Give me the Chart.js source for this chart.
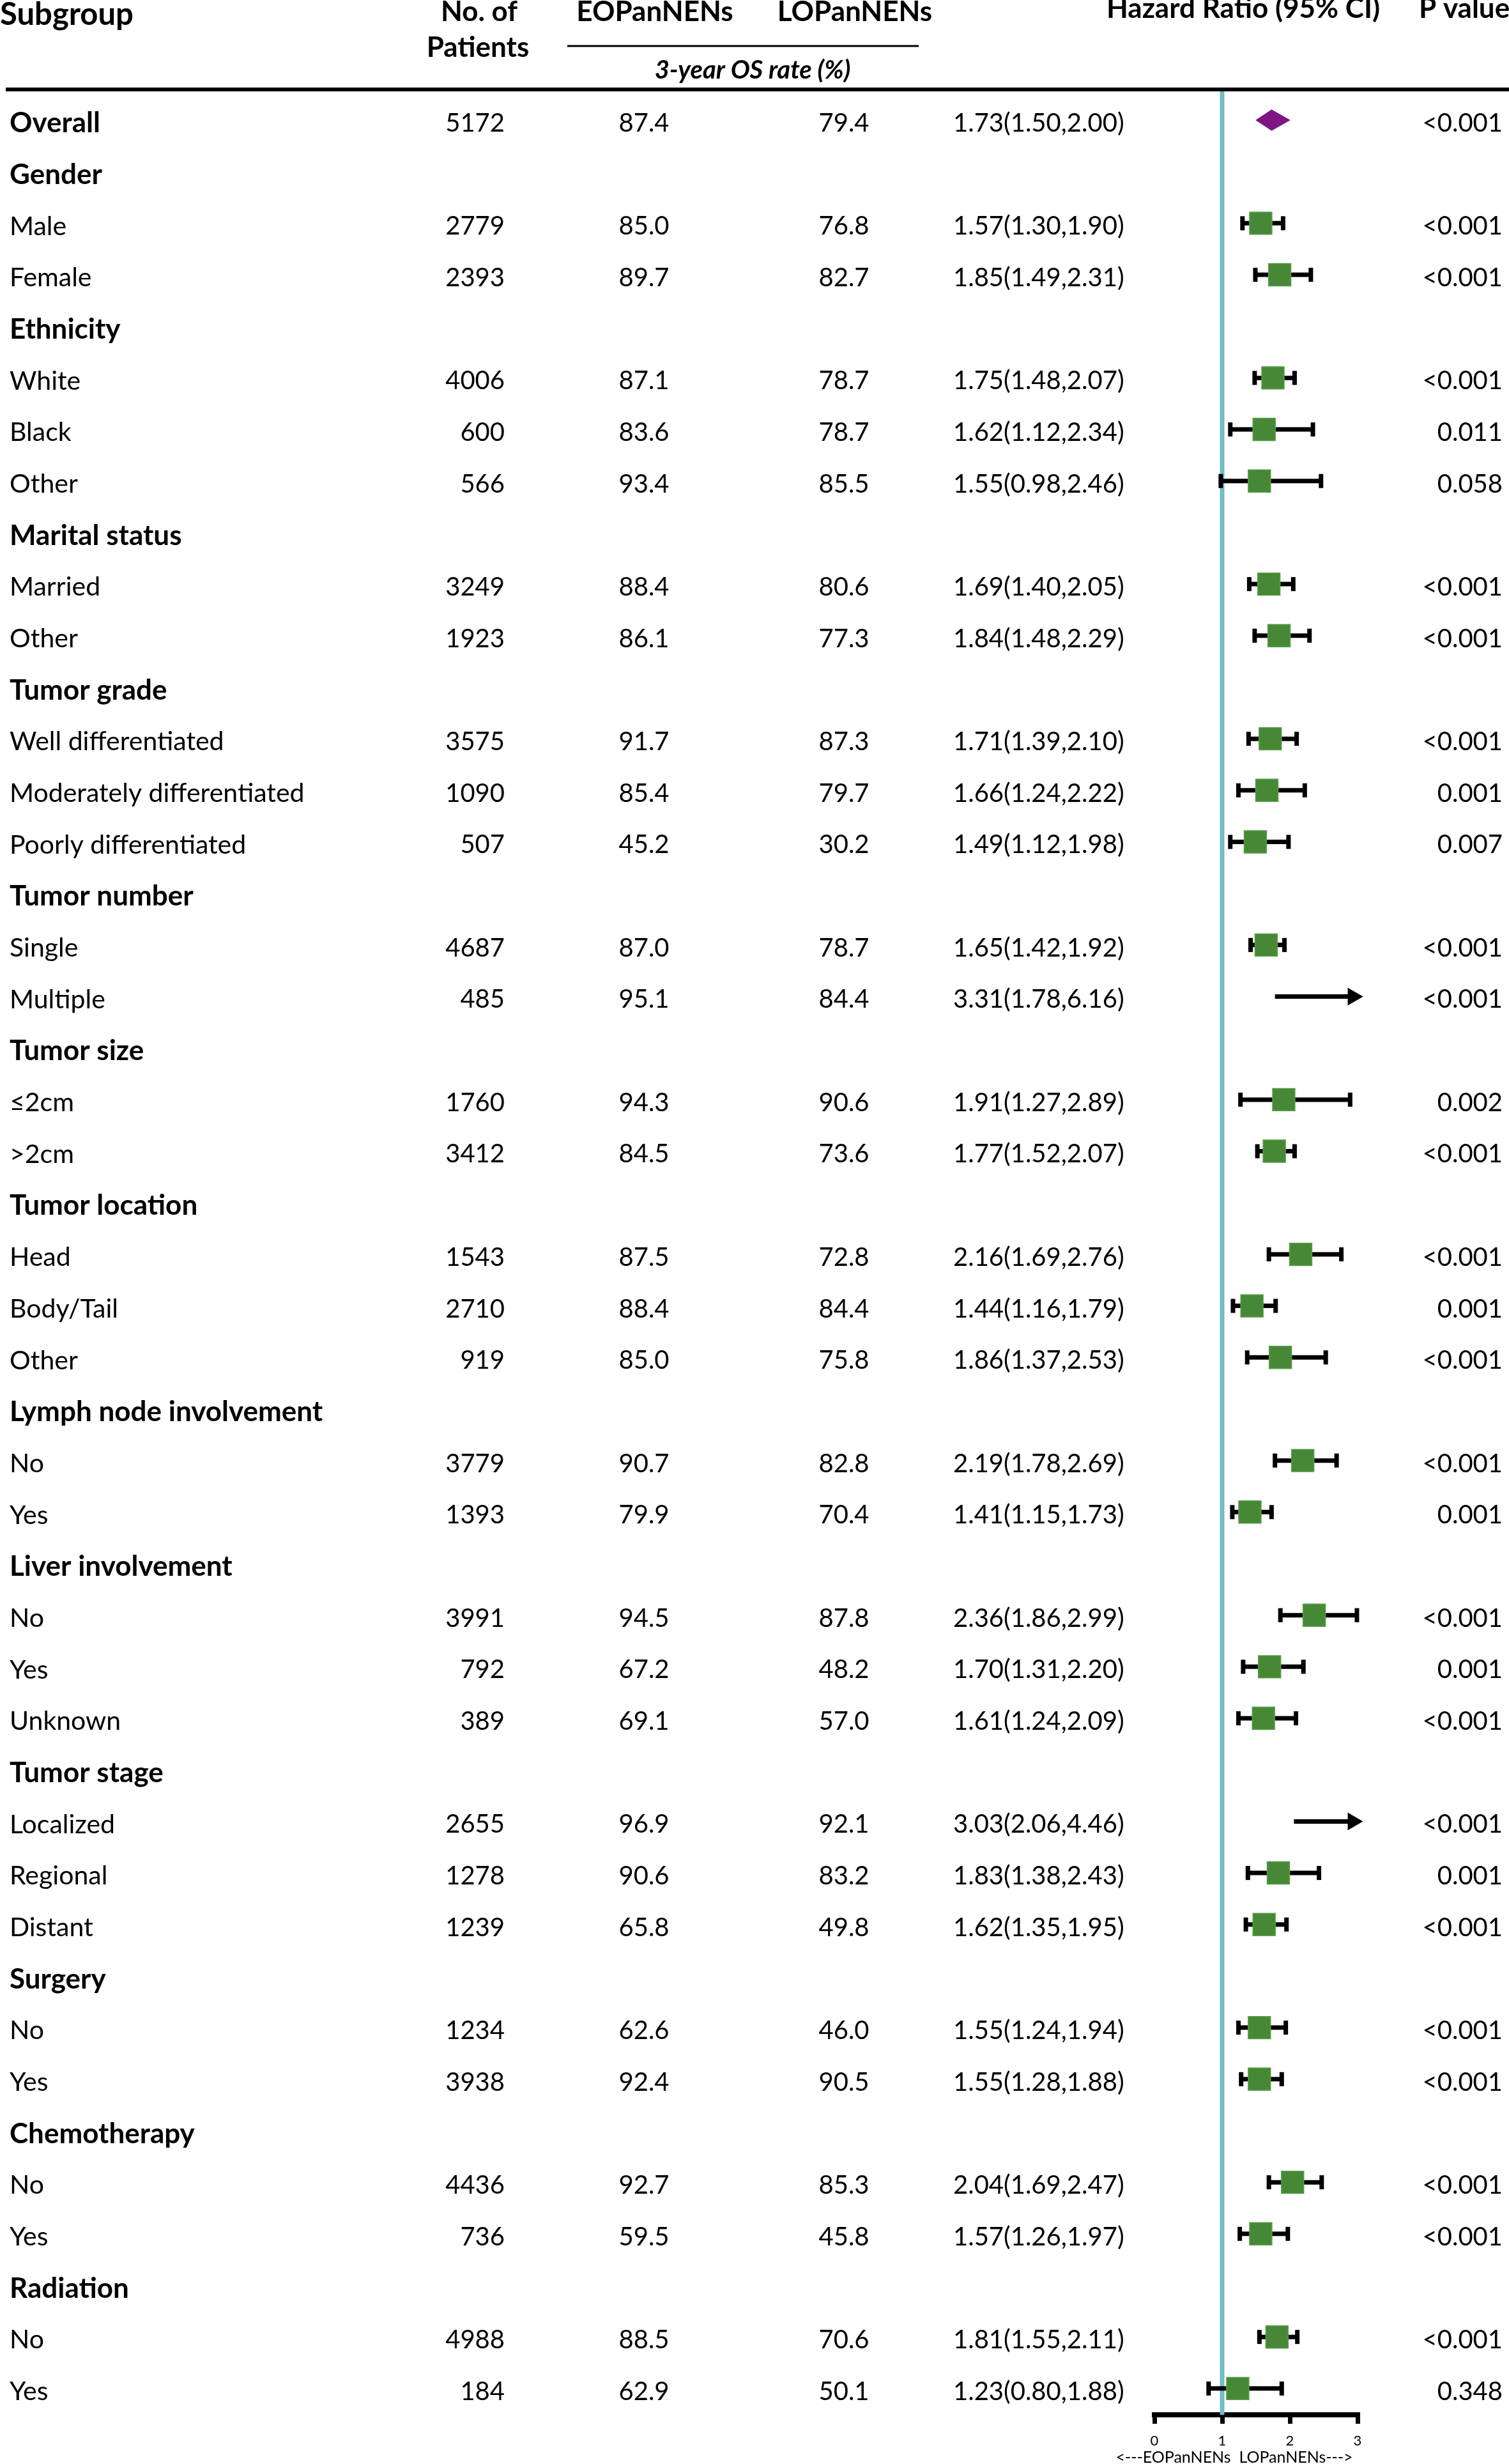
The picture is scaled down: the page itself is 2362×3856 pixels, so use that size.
<!DOCTYPE html>
<html>
<head>
<meta charset="utf-8">
<script src="https://cdn.jsdelivr.net/npm/chart.js@4.4.1/dist/chart.umd.min.js"></script>
<style>
  html, body { margin: 0; padding: 0; background: #fff; }
  canvas { display: block; }
</style>
</head>
<body>
<canvas id="forestChart" width="2362" height="3856"></canvas>
<script>
// table rows, top to bottom (null = group heading row)
const subgroups = ['Overall', 'Gender', 'Male', 'Female', 'Ethnicity', 'White', 'Black', 'Other',
  'Marital status', 'Married', 'Other', 'Tumor grade', 'Well differentiated', 'Moderately differentiated',
  'Poorly differentiated', 'Tumor number', 'Single', 'Multiple', 'Tumor size', '\u22642cm', '>2cm',
  'Tumor location', 'Head', 'Body/Tail', 'Other', 'Lymph node involvement', 'No', 'Yes',
  'Liver involvement', 'No', 'Yes', 'Unknown', 'Tumor stage', 'Localized', 'Regional', 'Distant',
  'Surgery', 'No', 'Yes', 'Chemotherapy', 'No', 'Yes', 'Radiation', 'No', 'Yes']
const patients = [5172, null, 2779, 2393, null, 4006, 600, 566, null, 3249, 1923, null, 3575, 1090, 507,
  null, 4687, 485, null, 1760, 3412, null, 1543, 2710, 919, null, 3779, 1393, null, 3991, 792, 389,
  null, 2655, 1278, 1239, null, 1234, 3938, null, 4436, 736, null, 4988, 184]
const eoRate = [87.4, null, 85.0, 89.7, null, 87.1, 83.6, 93.4, null, 88.4, 86.1, null, 91.7, 85.4, 45.2,
  null, 87.0, 95.1, null, 94.3, 84.5, null, 87.5, 88.4, 85.0, null, 90.7, 79.9, null, 94.5, 67.2, 69.1,
  null, 96.9, 90.6, 65.8, null, 62.6, 92.4, null, 92.7, 59.5, null, 88.5, 62.9]
const loRate = [79.4, null, 76.8, 82.7, null, 78.7, 78.7, 85.5, null, 80.6, 77.3, null, 87.3, 79.7, 30.2,
  null, 78.7, 84.4, null, 90.6, 73.6, null, 72.8, 84.4, 75.8, null, 82.8, 70.4, null, 87.8, 48.2, 57.0,
  null, 92.1, 83.2, 49.8, null, 46.0, 90.5, null, 85.3, 45.8, null, 70.6, 50.1]
const hazard = [1.73, null, 1.57, 1.85, null, 1.75, 1.62, 1.55, null, 1.69, 1.84, null, 1.71, 1.66, 1.49,
  null, 1.65, 3.31, null, 1.91, 1.77, null, 2.16, 1.44, 1.86, null, 2.19, 1.41, null, 2.36, 1.70, 1.61,
  null, 3.03, 1.83, 1.62, null, 1.55, 1.55, null, 2.04, 1.57, null, 1.81, 1.23]
const ciLow = [1.50, null, 1.30, 1.49, null, 1.48, 1.12, 0.98, null, 1.40, 1.48, null, 1.39, 1.24, 1.12,
  null, 1.42, 1.78, null, 1.27, 1.52, null, 1.69, 1.16, 1.37, null, 1.78, 1.15, null, 1.86, 1.31, 1.24,
  null, 2.06, 1.38, 1.35, null, 1.24, 1.28, null, 1.69, 1.26, null, 1.55, 0.80]
const ciHigh = [2.00, null, 1.90, 2.31, null, 2.07, 2.34, 2.46, null, 2.05, 2.29, null, 2.10, 2.22, 1.98,
  null, 1.92, 6.16, null, 2.89, 2.07, null, 2.76, 1.79, 2.53, null, 2.69, 1.73, null, 2.99, 2.20, 2.09,
  null, 4.46, 2.43, 1.95, null, 1.94, 1.88, null, 2.47, 1.97, null, 2.11, 1.88]
const pValues = ['<0.001', null, '<0.001', '<0.001', null, '<0.001', '0.011', '0.058', null, '<0.001',
  '<0.001', null, '<0.001', '0.001', '0.007', null, '<0.001', '<0.001', null, '0.002', '<0.001', null,
  '<0.001', '0.001', '<0.001', null, '<0.001', '0.001', null, '<0.001', '0.001', '<0.001', null,
  '<0.001', '0.001', '<0.001', null, '<0.001', '<0.001', null, '<0.001', '<0.001', null, '<0.001', '0.348']
const xTicks = [0, 1, 2, 3]

const AXIS_MAX = 3
const ARROW_X = 2.93   // where the arrowhead sits for CIs running off the axis
const Y_TOP = -0.595
const Y_BOTTOM = 44.51
const FONT = 'Lato, "Open Sans", sans-serif'

function boldRow(i) {
  return i === 0 || patients[i] === null
}

function drawForest() {
  const datasets = []

  // reference line at HR = 1
  datasets.push({
    data: [{ x: 1, y: Y_TOP }, { x: 1, y: Y_BOTTOM }],
    showLine: true, borderColor: '#72BCC6', borderWidth: 7, pointRadius: 0, order: 5
  })

  subgroups.forEach((name, i) => {
    if (i === 0 || hazard[i] === null) return
    if (ciHigh[i] <= AXIS_MAX) {
      // error bar with end caps
      datasets.push({
        data: [{ x: ciLow[i], y: i }, { x: ciHigh[i], y: i }],
        showLine: true, borderColor: '#000', borderWidth: 7,
        pointStyle: 'line', pointRotation: 90, pointRadius: 11,
        pointBorderColor: '#000', pointBorderWidth: 7, order: 3, clip: false
      })
    } else {
      // runs off the axis: arrow
      datasets.push({
        data: [{ x: ciLow[i], y: i }, { x: ARROW_X, y: i }],
        showLine: true, borderColor: '#000', borderWidth: 7,
        pointStyle: 'triangle', pointRotation: 90, pointRadius: [0, 14],
        pointBackgroundColor: '#000', pointBorderColor: '#000', pointBorderWidth: 2,
        order: 3, clip: false
      })
    }
  })

  // squares for the subgroup estimates
  const squares = []
  subgroups.forEach((name, i) => {
    if (i > 0 && hazard[i] !== null && hazard[i] <= AXIS_MAX) squares.push({ x: hazard[i], y: i })
  })
  datasets.push({
    data: squares, pointStyle: 'rect', pointRadius: 24.7,
    pointBackgroundColor: '#468836', pointBorderColor: '#5A9F48', pointBorderWidth: 1.5, order: 1
  })

  // overall diamond spans its CI
  datasets.push({
    data: [{ x: ciLow[0], y: 0 }, { x: hazard[0], y: -0.2 }, { x: ciHigh[0], y: 0 },
           { x: hazard[0], y: 0.2 }, { x: ciLow[0], y: 0 }],
    showLine: true, fill: 'shape', backgroundColor: '#7D1683', borderColor: '#7D1683',
    borderWidth: 1, pointRadius: 0, order: 1
  })

  const tableText = {
    id: 'tableText',
    afterDraw(chart) {
      const c = chart.ctx
      const yScale = chart.scales.y
      c.save()
      c.fillStyle = '#000'
      c.strokeStyle = '#000'

      // header
      c.textBaseline = 'alphabetic'
      c.font = 'bold 49px ' + FONT
      c.textAlign = 'left'
      c.fillText('Subgroup', 0, 39)
      c.font = 'bold 44px ' + FONT
      c.textAlign = 'center'
      c.fillText('No. of', 750, 33)
      c.fillText('Patients', 748, 89)
      c.fillText('EOPanNENs', 1025, 33)
      c.fillText('LOPanNENs', 1338, 33)
      c.fillText('Hazard Ratio (95% CI)', 1946, 28)
      c.textAlign = 'left'
      c.fillText('P value', 2221, 28)
      c.textAlign = 'center'
      c.font = 'italic bold 40px ' + FONT
      c.fillText('3-year OS rate (%)', 1178, 123)

      c.lineWidth = 3
      c.beginPath()
      c.moveTo(888, 72)
      c.lineTo(1438, 72)
      c.stroke()
      c.lineWidth = 6
      c.beginPath()
      c.moveTo(9, 140)
      c.lineTo(2362, 140)
      c.stroke()

      // rows
      c.textBaseline = 'middle'
      subgroups.forEach((name, i) => {
        const y = yScale.getPixelForValue(i) + 5
        c.font = (boldRow(i) ? 'bold 44px ' : '41px ') + FONT
        c.textAlign = 'left'
        c.fillText(name, 15, y)
        if (patients[i] === null) return
        c.font = '40px ' + FONT
        c.textAlign = 'right'
        c.fillText(String(patients[i]), 790, y)
        c.textAlign = 'center'
        c.fillText(eoRate[i].toFixed(1), 1008, y)
        c.fillText(loRate[i].toFixed(1), 1321, y)
        c.textAlign = 'left'
        c.fillText(hazard[i].toFixed(2) + '(' + ciLow[i].toFixed(2) + ',' + ciHigh[i].toFixed(2) + ')', 1492, y)
        c.textAlign = 'right'
        c.fillText(pValues[i], 2352, y)
      })

      // direction note under the axis
      c.font = '25px ' + FONT
      c.textAlign = 'center'
      c.fillText('<---EOPanNENs  LOPanNENs--->', 1932, 3846)
      c.restore()
    }
  }

  new Chart(document.getElementById('forestChart').getContext('2d'), {
    type: 'scatter',
    data: { datasets: datasets },
    options: {
      responsive: false,
      animation: false,
      devicePixelRatio: 1,
      layout: { padding: { left: 1807, right: 237, top: 140, bottom: 0 } },
      plugins: { legend: { display: false }, tooltip: { enabled: false } },
      scales: {
        x: {
          type: 'linear', position: 'bottom', min: 0, max: AXIS_MAX,
          afterFit: scale => { scale.height = 77 },
          afterBuildTicks: scale => { scale.ticks = xTicks.map(v => ({ value: v })) },
          ticks: { color: '#000', font: { family: FONT, size: 22 }, padding: 14 },
          grid: { drawOnChartArea: false, drawTicks: true, tickLength: 14, tickWidth: 7, lineWidth: 7, tickColor: '#000', color: '#000' },
          border: { display: true, color: '#000', width: 8 }
        },
        y: { type: 'linear', reverse: true, min: Y_TOP, max: Y_BOTTOM, display: false }
      }
    },
    plugins: [tableText]
  })
}

document.fonts.load('40px Lato').then(drawForest, drawForest)
</script>
</body>
</html>
